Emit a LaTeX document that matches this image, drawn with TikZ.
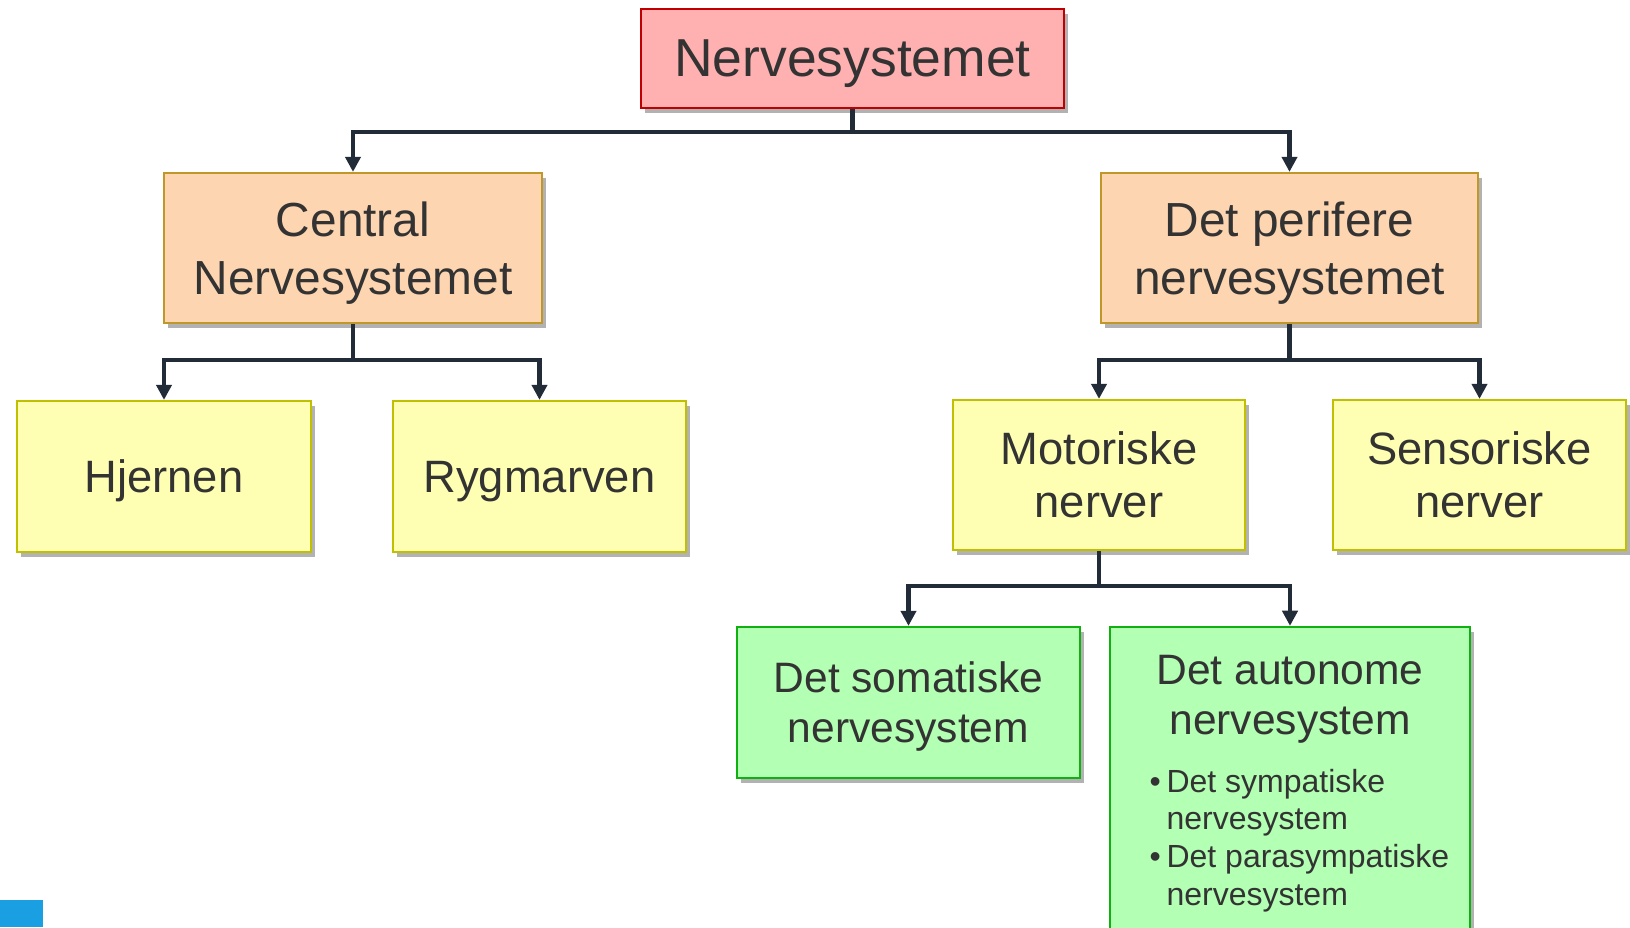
\documentclass[tikz,border=0pt]{standalone}
\usepackage{fontspec}
\setmainfont{Liberation Sans}
\usetikzlibrary{arrows.meta,positioning,shadows}
\definecolor{nstext}{HTML}{333333}
\definecolor{nsline}{HTML}{222B38}
\definecolor{rootfill}{HTML}{FFB0B0}
\definecolor{rootdraw}{HTML}{C00000}
\definecolor{midfill}{HTML}{FDD6B1}
\definecolor{middraw}{HTML}{C0982A}
\definecolor{leaffill}{HTML}{FFFFB3}
\definecolor{leafdraw}{HTML}{C0C000}
\definecolor{subfill}{HTML}{B3FFB3}
\definecolor{subdraw}{HTML}{10B010}
\definecolor{cornerblue}{HTML}{1A9FE3}
\tikzset{
  box/.style={rectangle, line width=0.6pt, text=nstext, align=center, inner sep=0pt, text depth=0pt,
              drop shadow={shadow xshift=1.2pt, shadow yshift=-1.5pt, fill=black, opacity=0.3}},
  rootbox/.style={box, fill=rootfill, draw=rootdraw, font=\fontsize{15.2}{18}\selectfont},
  midbox/.style={box, fill=midfill, draw=middraw, font=\fontsize{13.6}{16.5}\selectfont},
  leafbox/.style={box, fill=leaffill, draw=leafdraw, font=\fontsize{12.9}{15.1}\selectfont},
  subbox/.style={box, fill=subfill, draw=subdraw, font=\fontsize{12.1}{14.2}\selectfont},
  subtxt/.style={text=nstext, inner sep=0pt, align=center, font=\fontsize{12.1}{14.2}\selectfont},
  listtxt/.style={text=nstext, inner sep=0pt, font=\fontsize{9.1}{10.8}\selectfont},
  conn/.style={nsline, line width=1.2pt, -{Triangle[length=4.3pt,width=4.3pt]}},
}

\begin{document}
\begin{tikzpicture}[x=0.01cm, y=-0.01cm]
  \useasboundingbox (0,0) rectangle (1630,927);
  \clip (0,0) rectangle (1630,927);
  \fill[cornerblue] (0,900) rectangle (43,927);

  % boxes
  \node[rootbox, minimum width=4.23cm, minimum height=0.99cm] (root) at (852.5,58.5) {Nervesystemet};
  \node[midbox, minimum width=3.78cm, minimum height=1.50cm] (cns) at (353,248) {Central\\Nervesystemet};
  \node[midbox, minimum width=3.77cm, minimum height=1.50cm] (pns) at (1289.5,248) {Det perifere\\nervesystemet};
  \node[leafbox, minimum width=2.94cm, minimum height=1.51cm] (brain) at (164,476.5) {Hjernen};
  \node[leafbox, minimum width=2.93cm, minimum height=1.51cm] (cord) at (539.5,476.5) {Rygmarven};
  \node[leafbox, minimum width=2.92cm, minimum height=1.50cm] (motor) at (1099,475) {Motoriske\\nerver};
  \node[leafbox, minimum width=2.93cm, minimum height=1.50cm] (sensor) at (1479.5,475) {Sensoriske\\nerver};
  \node[subbox, minimum width=3.43cm, minimum height=1.51cm] (somat) at (908.5,702.5) {Det somatiske\\nervesystem};
  \node[subbox, minimum width=3.60cm, minimum height=3.33cm] (auton) at (1290,793.5) {};
  \node[subtxt] (autontitle) at (1290,699) {Det autonome\\nervesystem};
  \node[listtxt, anchor=base west] (autonlist) at (1149,792)
    {\begin{tabular}[t]{@{}l@{\hspace{1.6pt}}l@{}}
      \textbullet & Det sympatiske\\
                  & nervesystem\\
      \textbullet & Det parasympatiske\\
                  & nervesystem
    \end{tabular}};

  % connectors
  \coordinate (j1) at (852.5,132);
  \coordinate (j2) at (353,360);
  \coordinate (j3) at (1289.5,360);
  \coordinate (j4) at (1099,586);
  \draw[conn] (root.south) -- (j1) -| (cns.north);
  \draw[conn] (j1) -| (pns.north);
  \draw[conn] (cns.south) -- (j2) -| (brain.north);
  \draw[conn] (j2) -| (cord.north);
  \draw[conn] (pns.south) -- (j3) -| (motor.north);
  \draw[conn] (j3) -| (sensor.north);
  \draw[conn] (motor.south) -- (j4) -| (somat.north);
  \draw[conn] (j4) -| (auton.north);
\end{tikzpicture}
\end{document}
